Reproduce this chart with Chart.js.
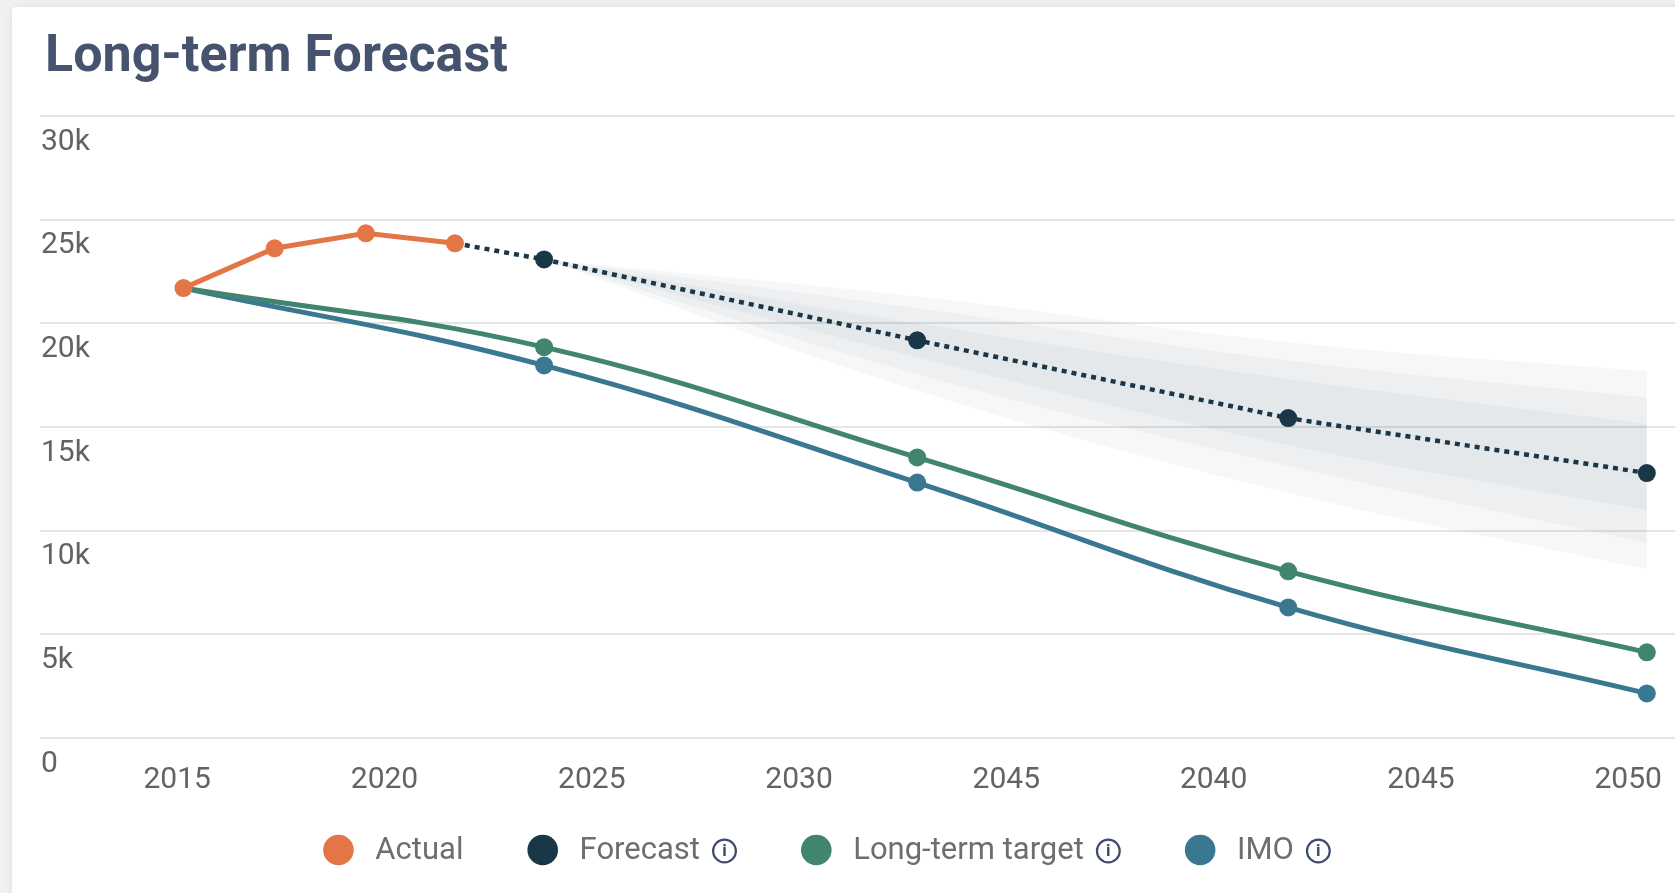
<!DOCTYPE html>
<html>
<head>
<meta charset="utf-8">
<script src="https://cdn.jsdelivr.net/npm/chart.js@4.4.1/dist/chart.umd.min.js"></script>
<style>
  html, body { margin: 0; padding: 0; width: 1675px; height: 893px; overflow: hidden; background: #f1f1f1; font-family: Roboto, sans-serif; }
  #card { position: absolute; left: 12px; top: 7px; width: 1720px; height: 940px; background: #fff; border-radius: 4px; box-shadow: 0 0 10px rgba(0,0,0,0.08); }
  #title { position: absolute; left: 45px; top: 28px; margin: 0; font: 700 52px/52px Roboto, sans-serif; color: #46536f; white-space: nowrap; }
  #chart { position: absolute; left: 0; top: 0; }
</style>
</head>
<body>
<div id="card"></div>
<h1 id="title">Long-term Forecast</h1>
<canvas id="chart" width="1675" height="893"></canvas>
<script>
// ---- data ----
const tickYears = [2015, 2020, 2025, 2030, 2035, 2040, 2045, 2050];
const tickLabels = ['2015', '2020', '2025', '2030', '2045', '2040', '2045', '2050'];
const yTickValues = [0, 5000, 10000, 15000, 20000, 25000, 30000];
const yTickLabels = ['0', '5k', '10k', '15k', '20k', '25k', '30k'];

const actualYears = [2015.15, 2017.35, 2019.55, 2021.7];
const actualValues = [21700, 23620, 24340, 23860];

const forecastYears = [2021.7, 2023.85, 2032.85, 2041.8, 2050.45];
const forecastValues = [23860, 23080, 19180, 15430, 12780];

const pathYears = [2015.15, 2023.85, 2032.85, 2041.8, 2050.45];
const targetValues = [21700, 18850, 13530, 8040, 4130];
const imoValues = [21700, 17970, 12320, 6300, 2150];

const bandYears = [2023.85, 2032.85, 2041.8, 2050.45];
const bandOuterUpper = [23080, 21290, 19090, 17690];
const bandOuterLower = [23080, 16760, 11830, 8140];
const bandMidUpper = [23080, 20730, 18210, 16430];
const bandMidLower = [23080, 17560, 13130, 9410];
const bandInnerUpper = [23080, 20000, 17320, 15160];
const bandInnerLower = [23080, 18370, 14130, 10990];

// ---- styles ----
const COLORS = { actual: '#e37546', forecast: '#193746', target: '#418571', imo: '#3a7891', band: 'rgba(90,115,120,0.055)' };
const FONT = 'Roboto';
const TICK_COLOR = '#636363';
const LEGEND_TEXT = '#6e6e6e';
const ICON_COLOR = '#3e4b6d';
const LINE_W = 5;
const POINT_R = 9;

const pts = (xs, ys) => xs.map((x, i) => ({ x: x, y: ys[i] }));
const hideFirst = r => (ctx => ctx.dataIndex === 0 ? 0 : r);

function bandSet(values, fill) {
  return { label: '', data: pts(bandYears, values), fill: fill, backgroundColor: COLORS.band,
           borderColor: 'rgba(0,0,0,0)', borderWidth: 0, pointRadius: 0, tension: 0.4 };
}

const infoLegend = {
  id: 'infoLegend',
  afterDraw(chart) {
    const c = chart.ctx;
    const items = chart.data.datasets.filter(d => d.legendItem);
    const DOT_D = 30.6, DOT_GAP = 21.6, ICON_GAP = 12, ICON_D = 25, ITEM_GAP = 64;
    const CX = 827, Y = 850;
    const LEGEND_FONT = '31px ' + FONT;
    c.save();
    c.font = LEGEND_FONT;
    const widths = items.map(d => DOT_D + DOT_GAP + c.measureText(d.label).width + (d.info ? ICON_GAP + ICON_D : 0));
    const total = widths.reduce((a, b) => a + b, 0) + ITEM_GAP * (items.length - 1);
    let x = CX - total / 2;
    items.forEach((d, i) => {
      c.fillStyle = d.borderColor;
      c.beginPath(); c.arc(x + DOT_D / 2, Y, DOT_D / 2, 0, Math.PI * 2); c.fill();
      c.font = LEGEND_FONT;
      c.fillStyle = LEGEND_TEXT; c.textAlign = 'left'; c.textBaseline = 'middle';
      const tx = x + DOT_D + DOT_GAP;
      c.fillText(d.label, tx, Y + 1);
      if (d.info) {
        const ix = tx + c.measureText(d.label).width + ICON_GAP + ICON_D / 2;
        c.strokeStyle = ICON_COLOR; c.lineWidth = 2.2;
        c.beginPath(); c.arc(ix, Y + 1, ICON_D / 2 - 1.1, 0, Math.PI * 2); c.stroke();
        c.fillStyle = ICON_COLOR; c.textAlign = 'center';
        c.font = '700 17px ' + FONT;
        c.fillText('i', ix, Y + 1.5);
      }
      x += widths[i] + ITEM_GAP;
    });
    c.restore();
  }
};

new Chart(document.getElementById('chart'), {
  type: 'line',
  data: {
    datasets: [
      { label: 'Actual', legendItem: true, info: false, data: pts(actualYears, actualValues),
        borderColor: COLORS.actual, backgroundColor: COLORS.actual, pointBackgroundColor: COLORS.actual,
        borderWidth: LINE_W, pointRadius: POINT_R, pointBorderWidth: 0, tension: 0, fill: false },
      { label: 'Forecast', legendItem: true, info: true, data: pts(forecastYears, forecastValues),
        borderColor: COLORS.forecast, backgroundColor: COLORS.forecast, pointBackgroundColor: COLORS.forecast,
        borderWidth: 4.5, borderDash: [5, 5], pointRadius: hideFirst(POINT_R), pointBorderWidth: 0, tension: 0, fill: false },
      { label: 'Long-term target', legendItem: true, info: true, data: pts(pathYears, targetValues),
        borderColor: COLORS.target, backgroundColor: COLORS.target, pointBackgroundColor: COLORS.target,
        borderWidth: LINE_W, pointRadius: hideFirst(POINT_R), pointBorderWidth: 0, tension: 0.4, fill: false },
      { label: 'IMO', legendItem: true, info: true, data: pts(pathYears, imoValues),
        borderColor: COLORS.imo, backgroundColor: COLORS.imo, pointBackgroundColor: COLORS.imo,
        borderWidth: LINE_W, pointRadius: hideFirst(POINT_R), pointBorderWidth: 0, tension: 0.4, fill: false },
      bandSet(bandOuterUpper, '+1'),
      bandSet(bandOuterLower, false),
      bandSet(bandMidUpper, '+1'),
      bandSet(bandMidLower, false),
      bandSet(bandInnerUpper, '+1'),
      bandSet(bandInnerLower, false)
    ]
  },
  options: {
    responsive: false,
    animation: false,
    events: [],
    layout: { autoPadding: false, padding: { left: 40, right: 0, top: 116, bottom: 71 } },
    plugins: { legend: { display: false }, tooltip: { enabled: false }, title: { display: false } },
    scales: {
      x: {
        type: 'linear', min: 2011.69, max: 2051.13,
        grid: { display: false, drawTicks: false }, border: { display: false },
        afterBuildTicks: s => { s.ticks = tickYears.map(v => ({ value: v })); },
        ticks: { padding: 24, color: TICK_COLOR, font: { family: FONT, size: 30 }, maxRotation: 0, autoSkip: false,
                 callback: (v, i) => tickLabels[i] },
        afterFit: s => { s.paddingLeft = 0; s.paddingRight = 0; }
      },
      y: {
        min: 0, max: 30000,
        grid: { color: '#e5e5e5', lineWidth: 2, drawTicks: false }, border: { display: false },
        afterBuildTicks: s => { s.ticks = yTickValues.map(v => ({ value: v })); },
        ticks: { mirror: true, padding: 1, labelOffset: 26, color: TICK_COLOR, font: { family: FONT, size: 30 },
                 callback: (v, i) => yTickLabels[i] },
        afterFit: s => { s.width = 0; s.paddingTop = 0; s.paddingBottom = 0; }
      }
    }
  },
  plugins: [infoLegend]
});
</script>
</body>
</html>
